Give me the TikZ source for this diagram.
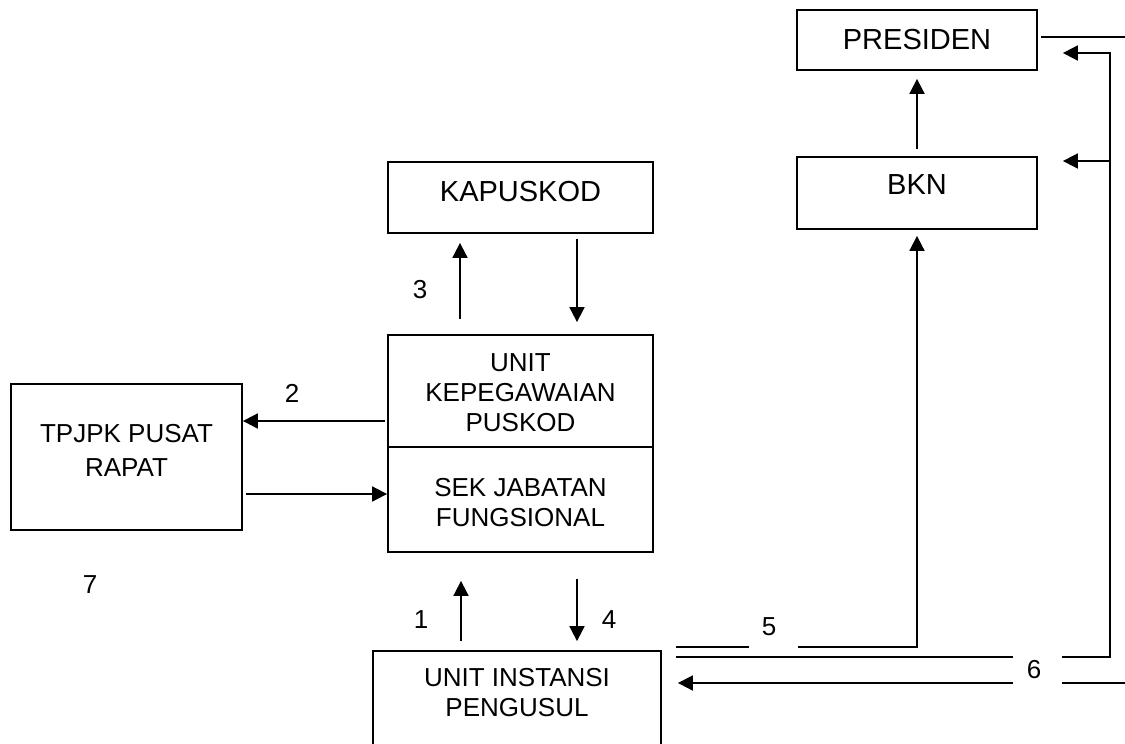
\documentclass[tikz,border=0pt]{standalone}
\usepackage{fontspec}
\setmainfont{Liberation Sans}
\usetikzlibrary{arrows.meta}
\begin{document}
\begin{tikzpicture}[x=0.5pt,y=-0.5pt,
    box/.style={draw, line width=0.9pt, inner sep=0pt},
    big/.style={font=\fontsize{14.5}{16}\selectfont},
    small/.style={font=\fontsize{13}{15}\selectfont, align=center},
    arr/.style={line width=0.9pt, -{Triangle[length=7.5pt,width=7.5pt]}},
    ln/.style={line width=0.9pt}]
    \useasboundingbox (0,0) rectangle (1125,744);

    % boxes
    \node[box, minimum width=120pt, minimum height=30pt] (pres) at (917,40) {};
    \node[box, minimum width=120pt, minimum height=36pt] (bkn) at (917,193) {};
    \node[box, minimum width=132.5pt, minimum height=35.5pt] (kap) at (520.5,197.5) {};
    \node[box, minimum width=132.5pt, minimum height=56pt] (unit) at (520.5,391) {};
    \node[box, minimum width=132.5pt, minimum height=52.5pt] (sek) at (520.5,499.5) {};
    \node[box, minimum width=115.5pt, minimum height=73pt] (tpjpk) at (126.5,457) {};
    \node[box, minimum width=144pt, minimum height=60pt] (usul) at (517,711) {};

    % box texts
    \node[big] (tpres) at (917,40) {PRESIDEN};
    \node[big] (tbkn) at (917,185) {BKN};
    \node[big] (tkap) at (520.5,192) {KAPUSKOD};
    \node[small] (tunit) at (520.5,392.5) {UNIT\\KEPEGAWAIAN\\PUSKOD};
    \node[small] (tsek) at (520.5,503) {SEK JABATAN\\FUNGSIONAL};
    \node[small, font=\fontsize{13}{17}\selectfont] (ttpjpk) at (126.5,450) {TPJPK PUSAT\\RAPAT};
    \node[small] (tusul) at (517,692.5) {UNIT INSTANSI\\PENGUSUL};

    % numbers
    \node[small] (n1) at (421,620) {1};
    \node[small] (n2) at (292,393) {2};
    \node[small] (n3) at (420,290) {3};
    \node[small] (n4) at (609,620) {4};
    \node[small] (n5) at (769,627) {5};
    \node[small] (n6) at (1034,670) {6};
    \node[small] (n7) at (90,585) {7};

    % loose ends
    \coordinate (p5a) at (676,647);
    \coordinate (p5b) at (749,647);
    \coordinate (p5c) at (798,647);
    \coordinate (p6a) at (676,657);
    \coordinate (p6b) at (1013,657);
    \coordinate (p6c) at (1062,657);
    \coordinate (p6e) at (1013,683);
    \coordinate (p6f) at (1062,683);
    \coordinate (p6g) at (1125,683);
    \coordinate (pr) at (1125,37);

    % connectors
    \draw[arr] ([yshift=3.5pt]bkn.north) -- ([yshift=-4pt]pres.south);
    \draw[arr] ([xshift=-30.25pt,yshift=7.5pt]unit.north) -- ([xshift=-30.25pt,yshift=-4.5pt]kap.south);
    \draw[arr] ([xshift=28.25pt,yshift=-2.5pt]kap.south) -- ([xshift=28.25pt,yshift=6pt]unit.north);
    \draw[arr] ([xshift=-1pt,yshift=-15pt]unit.west) -- ([yshift=18pt]tpjpk.east);
    \draw[arr] ([xshift=1.5pt,yshift=-18.5pt]tpjpk.east) -- ([yshift=2.75pt]sek.west);
    \draw[arr] ([xshift=-28pt,yshift=4.5pt]usul.north) -- ([xshift=-29.75pt,yshift=-14pt]sek.south);
    \draw[arr] ([xshift=28.25pt,yshift=-13pt]sek.south) -- ([xshift=30pt,yshift=4.5pt]usul.north);

    \draw[ln] (p5a) -- (p5b);
    \draw[arr] (p5c) -| ([yshift=-3pt]bkn.south);
    \draw[ln] (p6a) -- (p6b);
    \draw[arr] (p6c) -| ([xshift=36pt,yshift=-6.5pt]pres.east) -- ([xshift=12.5pt,yshift=-6.5pt]pres.east);
    \draw[arr] ([xshift=36pt,yshift=16pt]bkn.east) -- ([xshift=12.5pt,yshift=16pt]bkn.east);
    \draw[arr] (p6e) -- ([xshift=8pt,yshift=14pt]usul.east);
    \draw[ln] (p6f) -- (p6g);
    \draw[ln] ([xshift=1.5pt,yshift=1.5pt]pres.east) -- (pr);
\end{tikzpicture}
\end{document}
